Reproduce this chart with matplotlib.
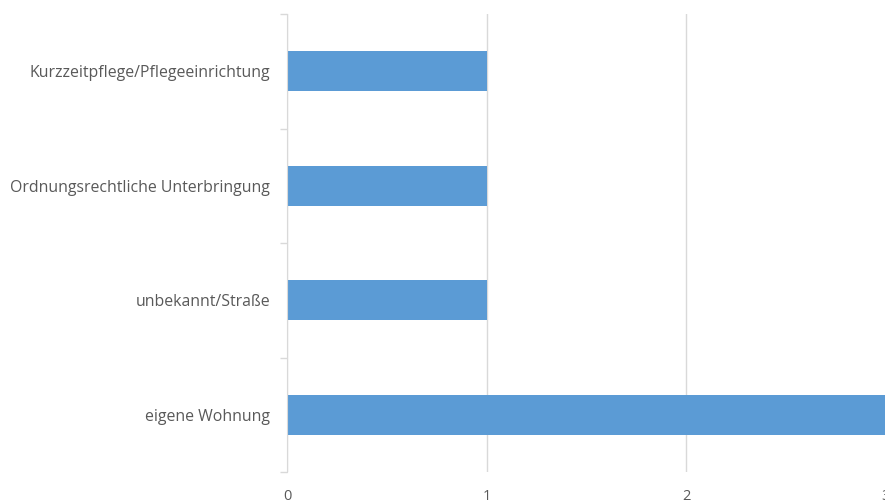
import numpy as np
import matplotlib
matplotlib.use('Agg')
import matplotlib.pyplot as plt

# Daten (von unten nach oben)
kategorien = ['eigene Wohnung', 'unbekannt/Straße',
              'Ordnungsrechtliche Unterbringung', 'Kurzzeitpflege/Pflegeeinrichtung']
werte = [3, 1, 1, 1]
x_ticks = [0, 1, 2, 3]

bar_farbe = '#5B9BD5'
grau = '#D9D9D9'
text_farbe = '#595959'

plt.rcParams['font.family'] = ['Open Sans', 'DejaVu Sans']

fig = plt.figure(figsize=(8.85, 5.04), dpi=100)
W, H = 885, 504
ax = fig.add_axes([287 / W, (H - 472) / H, 599 / W, 458 / H])

y = np.arange(len(kategorien))
ax.barh(y, werte, height=0.35, color=bar_farbe, zorder=3)

ax.set_xlim(0, 3)
ax.set_ylim(-0.5, len(kategorien) - 0.5)
ax.set_xticks(x_ticks)
ax.set_xticklabels([str(t) for t in x_ticks])
ax.set_yticks(y)
ax.set_yticklabels(kategorien)
ax.set_yticks(np.arange(-0.5, len(kategorien)), minor=True)

ax.xaxis.grid(True, color=grau, lw=1, zorder=0)
for s in ['top', 'right', 'bottom']:
    ax.spines[s].set_visible(False)
ax.spines['left'].set_color(grau)
ax.spines['left'].set_zorder(4)

ax.tick_params(axis='x', length=0, pad=12, labelsize=10.5, labelcolor=text_farbe)
ax.tick_params(axis='y', which='major', length=0, pad=12, labelsize=11.4, labelcolor=text_farbe)
ax.tick_params(axis='y', which='minor', length=5, color=grau, width=1)

fig.savefig('out.png', dpi=100)
